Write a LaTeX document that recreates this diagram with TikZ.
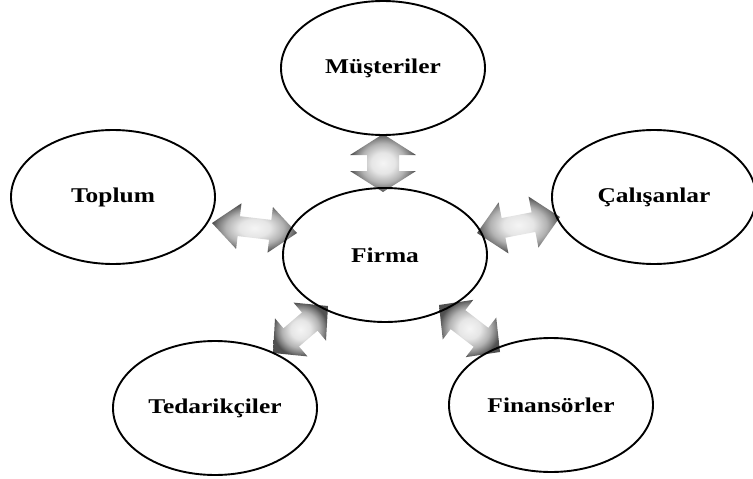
\documentclass[tikz,border=0pt]{standalone}
\usepackage{fontspec}
\usepackage{graphicx}
\setmainfont{Liberation Serif}
\usetikzlibrary{shapes.geometric,calc,backgrounds}
\pgfdeclareradialshading{arrsh}{\pgfpoint{0bp}{0bp}}{%
  color(0bp)=(black!4); color(9bp)=(black!10); color(17bp)=(black!30);
  color(22bp)=(black!52); color(25bp)=(black!68); color(50bp)=(black!72)}
\tikzset{
  party/.style={ellipse, draw=black, line width=1.9pt, minimum width=204pt, minimum height=134pt, inner sep=0pt,
    font=\fontsize{21pt}{21pt}\selectfont\bfseries},
  arrshade/.style={shading=arrsh}
}
\newcommand\lbl[1]{\scalebox{1.21}[1]{#1}}
% #1 tip A, #2 tip B, #3 head length, #4 head half width, #5 shaft half width
\newcommand\dblarrow[5]{%
  \shade[arrshade] (#1)
   -- ($(#1)!#3!(#2)!#4!90:(#2)$) -- ($(#1)!#3!(#2)!#5!90:(#2)$)
   -- ($(#2)!#3!(#1)!#5!-90:(#1)$) -- ($(#2)!#3!(#1)!#4!-90:(#1)$)
   -- (#2)
   -- ($(#2)!#3!(#1)!#4!90:(#1)$) -- ($(#2)!#3!(#1)!#5!90:(#1)$)
   -- ($(#1)!#3!(#2)!#5!-90:(#2)$) -- ($(#1)!#3!(#2)!#4!-90:(#2)$)
   -- cycle;}
\begin{document}
\begin{tikzpicture}[x=1pt,y=-1pt]
\useasboundingbox (0,0) rectangle (753,479);
\node[party] (firma) at (385,255) {\lbl{Firma}};
\node[party] (mus)   at (383,68)  {\lbl{Müşteriler}};
\node[party] (top)   at (113,197) {\lbl{Toplum}};
\node[party] (cal)   at (654,197) {\lbl{Çalışanlar}};
\node[party] (ted)   at (215,408) {\lbl{Tedarikçiler}};
\node[party] (fin)   at (551,405) {\lbl{Finansörler}};
\coordinate (m1) at (383,134);
\coordinate (m2) at (383,192);
\coordinate (t1) at (212,223);
\coordinate (t2) at (297,233);
\coordinate (c1) at (477,233);
\coordinate (c2) at (560,217);
\coordinate (d1) at (273,353);
\coordinate (d2) at (328,306);
\coordinate (f1) at (439,305);
\coordinate (f2) at (500,352);
\begin{scope}[on background layer]
\dblarrow{m1}{m2}{21pt}{33pt}{16pt}
\dblarrow{t1}{t2}{27pt}{23pt}{10pt}
\dblarrow{c1}{c2}{27pt}{26pt}{10pt}
\dblarrow{d1}{d2}{24pt}{25pt}{12pt}
\dblarrow{f1}{f2}{24pt}{25pt}{12pt}
\end{scope}
\end{tikzpicture}
\end{document}
